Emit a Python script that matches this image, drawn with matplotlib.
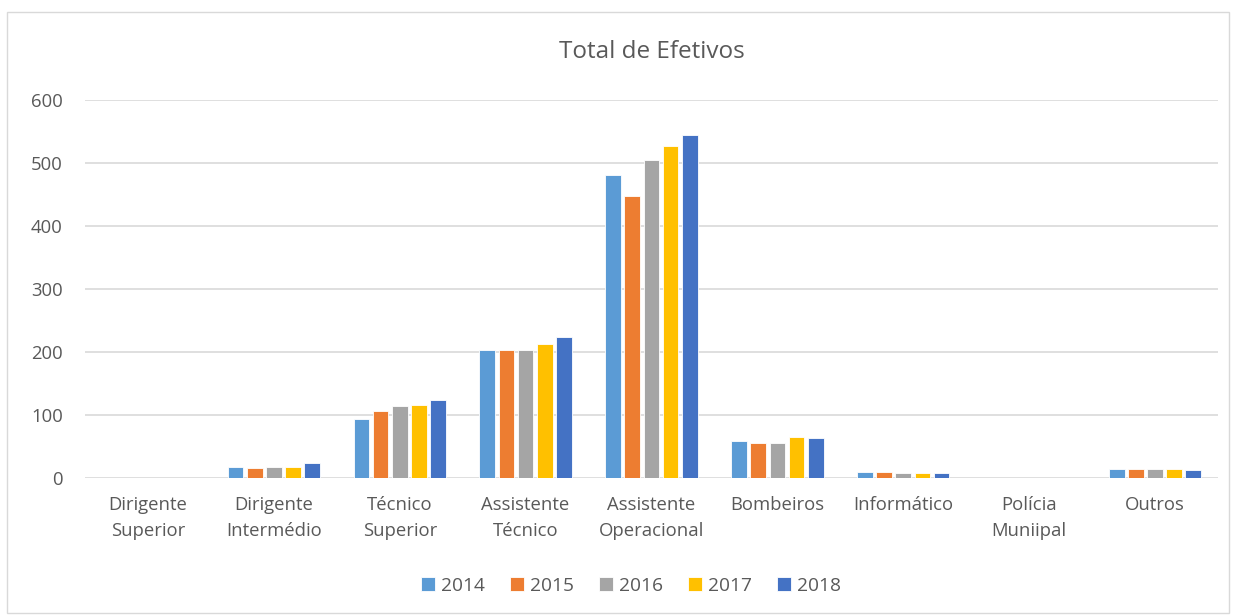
import numpy as np
import matplotlib.pyplot as plt
from matplotlib.patches import Rectangle

# Dados
categorias = ["Dirigente\nSuperior", "Dirigente\nIntermédio", "Técnico\nSuperior",
              "Assistente\nTécnico", "Assistente\nOperacional", "Bombeiros",
              "Informático", "Polícia\nMuniipal", "Outros"]
anos = ["2014", "2015", "2016", "2017", "2018"]
v2014 = [0, 17, 94, 203, 481, 58, 9, 0, 14]
v2015 = [0, 16, 106, 203, 448, 56, 9, 0, 14]
v2016 = [0, 18, 114, 203, 504, 55, 8, 0, 14]
v2017 = [0, 18, 116, 213, 527, 65, 8, 0, 14]
v2018 = [0, 24, 124, 224, 545, 64, 8, 0, 13]
series = [v2014, v2015, v2016, v2017, v2018]
cores = ["#5B9BD5", "#ED7D31", "#A5A5A5", "#FFC000", "#4472C4"]

plt.rcParams['font.family'] = ['Open Sans', 'DejaVu Sans']

fig = plt.figure(figsize=(12.36, 6.15), dpi=100)
ax = fig.add_axes([0.0688, 0.2228, 0.9166, 0.6146])

x = np.arange(len(categorias))
passo = 0.152
largura = 0.125
for i, (vals, cor, ano) in enumerate(zip(series, cores, anos)):
    ax.bar(x + (i - 2) * passo, vals, largura, color=cor, label=ano,
           edgecolor="white", linewidth=0.6, zorder=3)

ax.set_xlim(-0.5, len(categorias) - 0.5)
ax.set_ylim(0, 600)
ax.set_yticks(range(0, 601, 100))
ax.set_xticks(x)
ax.set_xticklabels(categorias, fontsize=13.3, color="#595959", linespacing=1.55)
ax.tick_params(axis="y", labelsize=13.3, labelcolor="#595959", length=0, pad=16)
ax.tick_params(axis="x", length=0, pad=13)
ax.grid(axis="y", color="#D9D9D9", linewidth=1.2, zorder=0)
for s in ax.spines.values():
    s.set_visible(False)

ax.set_title("Total de Efetivos", fontsize=17.5, color="#595959", pad=30)

ax.legend(loc="center", bbox_to_anchor=(0.482, -0.285), ncol=5, frameon=False,
          fontsize=13.8, labelcolor="#595959", handlelength=0.75, handleheight=0.75,
          handletextpad=0.3, columnspacing=1.3)

fig.patches.append(Rectangle((0.006, 0.003), 0.988, 0.977, transform=fig.transFigure,
                             fill=False, edgecolor="#D9D9D9", linewidth=1))

fig.savefig("out.png", dpi=100)
